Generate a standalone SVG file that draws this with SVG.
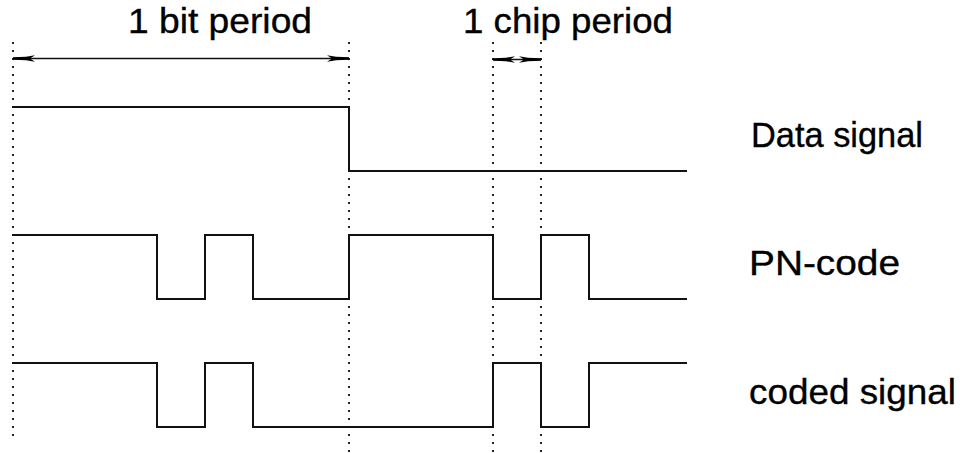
<svg xmlns="http://www.w3.org/2000/svg" width="960" height="453" viewBox="0 0 960 453">
  <style>
    .sig { fill: none; stroke: #111; stroke-width: 2; stroke-linejoin: miter; stroke-linecap: square; }
    .guide { fill: none; stroke: #222; stroke-width: 2; stroke-dasharray: 2 6; }
    .dim { fill: none; stroke: #111; stroke-width: 1.6; }
    .lbl { font-family: "Liberation Sans", Arial, Helvetica, sans-serif; font-size: 35px; fill: #000; stroke: #000; stroke-width: 0.35; }
  </style>
  <defs>
    <marker id="ah" viewBox="0 0 22 8" refX="22" refY="4" markerWidth="22" markerHeight="8" markerUnits="userSpaceOnUse" orient="auto-start-reverse">
      <path d="M0,0.8 L9,2.2 L22,2.8 L22,5.2 L9,5.8 L0,7.2 L5,4 Z" fill="#000"/>
    </marker>
  </defs>
  <rect width="960" height="453" fill="#fff"/>

  <g id="connectors">
    <path class="guide" d="M13,42 V437"/>
    <path class="guide" d="M349,42 V453"/>
    <path class="guide" d="M493,42 V453"/>
    <path class="guide" d="M541,42 V453"/>
    <path class="dim" d="M13,58.5 H349" marker-start="url(#ah)" marker-end="url(#ah)"/>
    <path class="dim" d="M493,59.5 H541" marker-start="url(#ah)" marker-end="url(#ah)"/>
  </g>

  <g id="data-signal">
    <path class="sig" d="M13,107 H349 V171 H686"/>
  </g>
  <g id="pn-code">
    <path class="sig" d="M13,235 H157 V299 H205 V235 H253 V299 H349 V235 H493 V299 H541 V235 H589 V299 H686"/>
  </g>
  <g id="coded-signal">
    <path class="sig" d="M13,363 H157 V427 H205 V363 H253 V427 H493 V363 H541 V427 H589 V363 H686"/>
  </g>

  <g id="label-bit-period">
    <text class="lbl" x="128" y="33" textLength="184" lengthAdjust="spacingAndGlyphs">1 bit period</text>
  </g>
  <g id="label-chip-period">
    <text class="lbl" x="463" y="33" textLength="210" lengthAdjust="spacingAndGlyphs">1 chip period</text>
  </g>
  <g id="label-data-signal">
    <text class="lbl" x="751" y="147" textLength="172" lengthAdjust="spacingAndGlyphs">Data signal</text>
  </g>
  <g id="label-pn-code">
    <text class="lbl" x="749" y="275" textLength="151" lengthAdjust="spacingAndGlyphs">PN-code</text>
  </g>
  <g id="label-coded-signal">
    <text class="lbl" x="749" y="404" textLength="207" lengthAdjust="spacingAndGlyphs">coded signal</text>
  </g>
</svg>
